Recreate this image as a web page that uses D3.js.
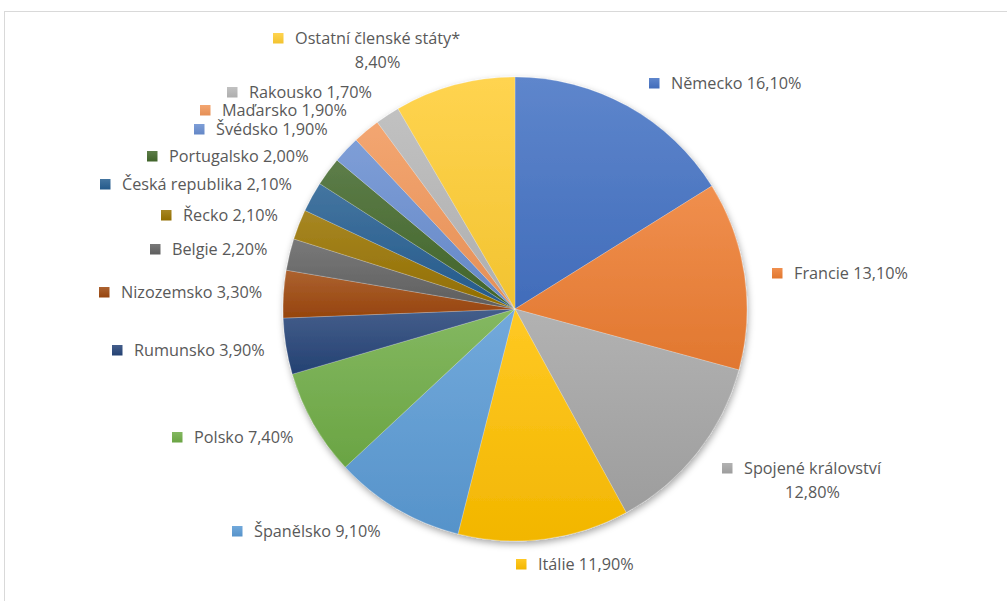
<!DOCTYPE html>
<html>

<head>
    <meta charset="utf-8">
    <script src="https://d3js.org/d3.v7.min.js"></script>
    <style>
        body { margin: 0; background: #fff; }
        text { font-family: "Open Sans", sans-serif; fill: #595959; }
    </style>
</head>

<body>
    <div id="viz"></div>

    <script>

        // data, clockwise from 12 o'clock
        var countries = ["Německo", "Francie", "Spojené království", "Itálie", "Španělsko", "Polsko",
            "Rumunsko", "Nizozemsko", "Belgie", "Řecko", "Česká republika", "Portugalsko",
            "Švédsko", "Maďarsko", "Rakousko", "Ostatní členské státy*"];
        var shares = [16.1, 13.1, 12.8, 11.9, 9.1, 7.4, 3.9, 3.3, 2.2, 2.1, 2.1, 2.0, 1.9, 1.9, 1.7, 8.4];
        var shareLabels = ["16,10%", "13,10%", "12,80%", "11,90%", "9,10%", "7,40%", "3,90%", "3,30%",
            "2,20%", "2,10%", "2,10%", "2,00%", "1,90%", "1,90%", "1,70%", "8,40%"];
        var colors = ["#4472C4", "#ED7D31", "#A5A5A5", "#FFC000", "#5B9BD5", "#70AD47",
            "#264478", "#9E480E", "#636363", "#997300", "#255E91", "#43682B",
            "#698ED0", "#F1975A", "#B7B7B7", "#FFCD33"];
        // labels that wrap the value onto a second line
        var wrapped = ["Spojené království", "Ostatní členské státy*"];

        // label key (small square) top-left corners
        var keyPos = [[649, 78], [772, 268], [722, 463], [516, 559], [232, 526], [172, 432],
            [112, 345], [99, 287], [150, 244], [161, 210], [100, 179], [147, 151],
            [194, 124], [200, 105], [227, 87], [273, 33]];

        var width = 1007, height = 601;
        var cx = 515, cy = 309, radius = 232;
        var keySize = 10.5, textGap = 22;

        var svg = d3.select("#viz")
            .append("svg")
            .attr("width", width)
            .attr("height", height);

        var defs = svg.append("defs");

        // soft shadow under the pie
        var shadow = defs.append("filter")
            .attr("id", "shadow")
            .attr("x", "-10%").attr("y", "-10%")
            .attr("width", "120%").attr("height", "120%");
        shadow.append("feDropShadow")
            .attr("dx", 1).attr("dy", 3)
            .attr("stdDeviation", 3.5)
            .attr("flood-color", "#000")
            .attr("flood-opacity", 0.35);

        // office style top-to-bottom gradient per colour
        colors.forEach(function (c, i) {
            var g = defs.append("linearGradient")
                .attr("id", "grad" + i)
                .attr("x1", 0).attr("y1", 0)
                .attr("x2", 0).attr("y2", 1);
            g.append("stop").attr("offset", "0%")
                .attr("stop-color", d3.interpolateRgb(c, "#fff")(0.14));
            g.append("stop").attr("offset", "100%")
                .attr("stop-color", d3.interpolateRgb(c, "#000")(0.05));
        });

        // chart frame (only top and left edges are in view)
        svg.append("rect")
            .attr("x", 4.5).attr("y", 11.5)
            .attr("width", 1100).attr("height", 700)
            .attr("fill", "none")
            .attr("stroke", "#d9d9d9")
            .attr("stroke-width", 1);

        var table = countries.map(function (name, i) {
            return { name: name, value: shares[i], label: shareLabels[i], i: i };
        });

        var pie = d3.pie()
            .sort(null)
            .value(function (d) { return d.value; });

        var arc = d3.arc()
            .innerRadius(0)
            .outerRadius(radius);

        var g = svg.append("g")
            .attr("transform", "translate(" + cx + "," + cy + ")")
            .attr("filter", "url(#shadow)");

        g.selectAll("path")
            .data(pie(table))
            .enter()
            .append("path")
            .attr("d", arc)
            .attr("fill", function (d) { return "url(#grad" + d.data.i + ")"; })
            .attr("stroke", "rgba(255,255,255,0.35)")
            .attr("stroke-width", 0.6);

        // font size fitted so "Francie 13,10%" is ~114px wide like the original
        var probe = svg.append("text").attr("font-size", 100).text("Francie 13,10%");
        var fontSize = 114 / probe.node().getComputedTextLength() * 100;
        probe.remove();

        var labels = svg.append("g").selectAll("g")
            .data(table)
            .enter()
            .append("g")
            .attr("transform", function (d) {
                return "translate(" + keyPos[d.i][0] + "," + keyPos[d.i][1] + ")";
            });

        labels.append("rect")
            .attr("width", keySize)
            .attr("height", keySize)
            .attr("fill", function (d) { return "url(#grad" + d.i + ")"; });

        labels.each(function (d) {
            var sel = d3.select(this);
            var isWrapped = wrapped.indexOf(d.name) >= 0;
            var t = sel.append("text")
                .attr("x", textGap)
                .attr("y", keySize / 2)
                .attr("dy", "0.36em")
                .attr("font-size", fontSize)
                .text(isWrapped ? d.name : d.name + " " + d.label);
            if (isWrapped) {
                var w = t.node().getComputedTextLength();
                sel.append("text")
                    .attr("x", textGap + w / 2)
                    .attr("y", keySize / 2 + 24)
                    .attr("dy", "0.36em")
                    .attr("text-anchor", "middle")
                    .attr("font-size", fontSize)
                    .text(d.label);
            }
        });

    </script>
</body>

</html>
